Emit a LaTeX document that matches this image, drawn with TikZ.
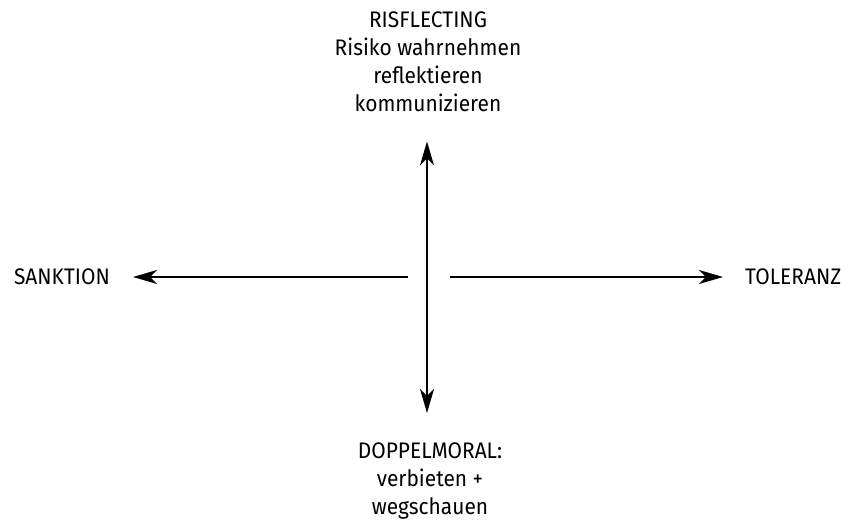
\documentclass[tikz,border=0pt]{standalone}
\usepackage{fontspec}
\setmainfont{Fira Sans}[FakeStretch=0.93]
\usepackage{tikz}
\usetikzlibrary{arrows.meta,positioning}
\tikzset{
  >={Stealth[length=24pt,width=14pt,inset=7pt]},
  vlabel/.style={inner sep=0pt,align=center},
  varr/.style={->,line width=2pt,draw=black},
  vboth/.style={<->,line width=2pt,draw=black}
}

\begin{document}
\begin{tikzpicture}[x=1pt,y=1pt,font=\fontsize{22.5}{28}\selectfont]
  \useasboundingbox (0,0) rectangle (848,524);
  % centre of the cross, y counted from the bottom
  \coordinate (mid) at (427,247);
  \coordinate (lgap) at (408,247);
  \coordinate (rgap) at (450,247);
  \node[vlabel,anchor=north] (risk) at (428,512) {RISFLECTING\\Risiko wahrnehmen\\reflektieren\\kommunizieren};
  \node[vlabel,anchor=north] (doppel) at (430,81) {DOPPELMORAL:\\verbieten +\\wegschauen};
  \node[vlabel,anchor=east] (sankt) at (110,247) {SANKTION};
  \node[vlabel,anchor=west] (toler) at (745,247) {TOLERANZ};
  \draw[varr,shorten >=23pt] (lgap) -- (sankt.east);
  \draw[varr,shorten >=22pt] (rgap) -- (toler.west);
  \draw[vboth,shorten <=30pt,shorten >=29pt] (doppel.north -| mid) -- (risk.south -| mid);
\end{tikzpicture}
\end{document}
